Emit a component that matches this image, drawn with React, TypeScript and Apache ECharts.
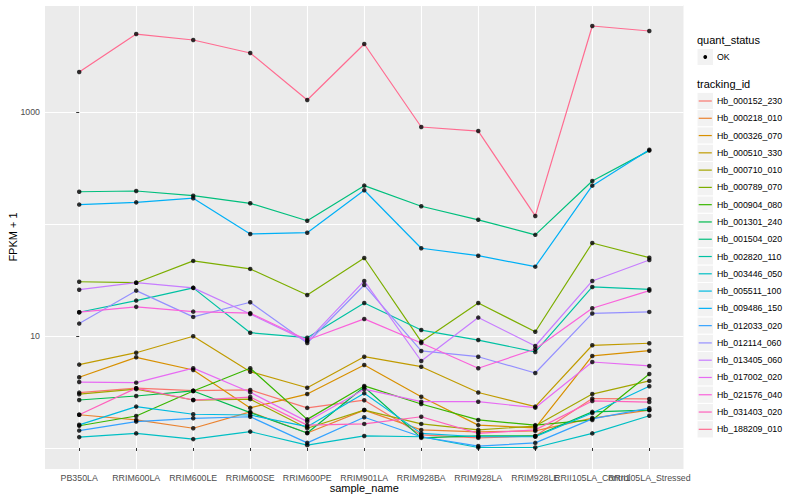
import React, { useEffect, useRef } from "react";
import * as echarts from "echarts";

// ---- data ----
const samples = [
  "PB350LA",
  "RRIM600LA",
  "RRIM600LE",
  "RRIM600SE",
  "RRIM600PE",
  "RRIM901LA",
  "RRIM928BA",
  "RRIM928LA",
  "RRIM928LE",
  "RRII105LA_Control",
  "RRII105LA_Stressed",
];

const trackingIds = [
  "Hb_000152_230",
  "Hb_000218_010",
  "Hb_000326_070",
  "Hb_000510_330",
  "Hb_000710_010",
  "Hb_000789_070",
  "Hb_000904_080",
  "Hb_001301_240",
  "Hb_001504_020",
  "Hb_002820_110",
  "Hb_003446_050",
  "Hb_005511_100",
  "Hb_009486_150",
  "Hb_012033_020",
  "Hb_012114_060",
  "Hb_013405_060",
  "Hb_017002_020",
  "Hb_021576_040",
  "Hb_031403_020",
  "Hb_188209_010",
];

const trackingColors = [
  "#F8766D", "#EA8331", "#D89000", "#C09B00", "#A3A500",
  "#7CAE00", "#39B600", "#00BB4E", "#00BF7D", "#00C1A3",
  "#00BFC4", "#00BAE0", "#00B0F6", "#35A2FF", "#9590FF",
  "#C77CFF", "#E76BF3", "#FA62DB", "#FF62BC", "#FF6C91",
];

const hb000152_230 = [3.12, 3.42, 3.25, 3.3, 2.28, 2.67, 1.31, 1.23, 1.28, 2.76, 2.74];
const hb000218_010 = [1.98, 1.78, 1.5, 2.1, 1.36, 2.18, 1.45, 1.39, 1.42, 1.85, 2.18];
const hb000326_070 = [4.28, 6.45, 4.97, 2.28, 3.03, 5.51, 2.87, 1.6, 1.51, 6.63, 7.39];
const hb000510_330 = [5.55, 7.09, 9.94, 4.8, 3.45, 6.53, 5.32, 3.13, 2.34, 8.26, 8.61];
const hb000710_010 = [3.02, 3.35, 2.68, 2.73, 1.5, 2.18, 1.64, 1.45, 1.57, 3.03, 3.97];
const hb000789_070 = [30.5, 29.9, 46.8, 39.7, 23.2, 49.7, 8.9, 19.7, 10.9, 67.7, 50.0];
const hb000904_080 = [1.58, 1.93, 3.23, 5.15, 1.8, 3.58, 2.47, 1.78, 1.6, 1.78, 4.58];
const hb001301_240 = [2.68, 2.91, 3.23, 2.07, 1.36, 3.5, 1.23, 1.28, 1.28, 2.1, 2.18];
const hb001504_020 = [194, 197, 179, 153, 107, 220, 144, 109, 80, 242, 452];
const hb002820_110 = [16.3, 20.7, 26.9, 10.7, 9.65, 19.7, 11.3, 9.2, 7.2, 27.4, 26.1];
const hb003446_050 = [1.25, 1.35, 1.2, 1.4, 1.06, 1.28, 1.26, 1.01, 1.01, 1.35, 1.94];
const hb005511_100 = [1.61, 2.34, 2.0, 1.97, 1.55, 3.08, 1.35, 1.26, 1.26, 2.05, 3.56];
const hb009486_150 = [149, 156, 170, 81.5, 83.6, 200, 60.7, 52.1, 41.6, 220, 460];
const hb012033_020 = [1.43, 1.72, 1.84, 1.9, 1.11, 1.88, 1.26, 1.04, 1.11, 1.82, 2.27];
const hb012114_060 = [12.9, 25.4, 14.8, 20.0, 8.66, 28.5, 7.35, 6.53, 4.67, 15.9, 16.4];
const hb013405_060 = [25.9, 29.9, 26.9, 15.7, 9.0, 31.0, 5.98, 14.6, 8.14, 31.0, 47.7];
const hb017002_020 = [3.88, 3.83, 5.16, 3.14, 1.72, 3.35, 2.59, 2.59, 2.29, 5.86, 5.4];
const hb021576_040 = [16.3, 18.2, 16.5, 16.0, 9.2, 14.2, 8.66, 5.15, 7.65, 17.7, 25.4];
const hb031403_020 = [1.98, 3.42, 2.68, 2.85, 1.6, 1.64, 1.9, 1.35, 1.45, 2.63, 2.57];
const hb188209_010 = [2277, 4966, 4395, 3365, 1280, 4046, 735, 676, 118, 5860, 5288];

const seriesValues = [
  hb000152_230, hb000218_010, hb000326_070, hb000510_330, hb000710_010,
  hb000789_070, hb000904_080, hb001301_240, hb001504_020, hb002820_110,
  hb003446_050, hb005511_100, hb009486_150, hb012033_020, hb012114_060,
  hb013405_060, hb017002_020, hb021576_040, hb031403_020, hb188209_010,
];

const yTickLabels = [10, 1000];
const yTickMarks = [1, 3]; // log10 positions of labelled ticks
const yMin = 0.649;
const yMax = 9025;

const FONT = "'Liberation Sans', Arial, Helvetica, sans-serif";

export default function App() {
  const ref = useRef<HTMLDivElement>(null);

  useEffect(() => {
    document.body.style.margin = "0";
    if (!ref.current) return;
    const chart = echarts.init(ref.current, undefined, { renderer: "svg" });

    const lineSeries = seriesValues.map((vals, si) => ({
      type: "line",
      name: trackingIds[si],
      data: vals.map((v, i) => [i, v]),
      showSymbol: false,
      symbol: "none",
      lineStyle: { color: trackingColors[si], width: 1.2 },
      itemStyle: { color: trackingColors[si] },
      z: 2,
      silent: true,
    }));

    const points: number[][] = [];
    seriesValues.forEach((vals) => vals.forEach((v, i) => points.push([i, v])));

    // legend graphics
    const lx = 697;
    const legendEls: any[] = [
      {
        type: "text",
        x: lx,
        y: 40,
        style: { text: "quant_status", font: `11px ${FONT}`, fill: "#000", verticalAlign: "middle" },
      },
      {
        type: "rect",
        shape: { x: lx, y: 48.5, width: 16.5, height: 17 },
        style: { fill: "#F2F2F2", stroke: "#FFFFFF", lineWidth: 1 },
      },
      { type: "circle", shape: { cx: lx + 8.25, cy: 57, r: 1.9 }, style: { fill: "#000" } },
      {
        type: "text",
        x: lx + 20,
        y: 57,
        style: { text: "OK", font: `8.8px ${FONT}`, fill: "#000", verticalAlign: "middle" },
      },
      {
        type: "text",
        x: lx,
        y: 84,
        style: { text: "tracking_id", font: `11px ${FONT}`, fill: "#000", verticalAlign: "middle" },
      },
    ];
    trackingIds.forEach((id, i) => {
      const cy = 101 + i * 17.28;
      legendEls.push({
        type: "rect",
        shape: { x: lx, y: cy - 8.64, width: 16.5, height: 17.28 },
        style: { fill: "#F2F2F2", stroke: "#FFFFFF", lineWidth: 1 },
      });
      legendEls.push({
        type: "line",
        shape: { x1: lx + 1.7, y1: cy, x2: lx + 14.8, y2: cy },
        style: { stroke: trackingColors[i], lineWidth: 1.2 },
      });
      legendEls.push({
        type: "text",
        x: lx + 20,
        y: cy,
        style: { text: id, font: `8.8px ${FONT}`, fill: "#000", verticalAlign: "middle" },
      });
    });

    const allIdx = samples.map((_, i) => i);
    // labels split between two stacked bottom axes so overlapping neighbours are both kept
    const mainLabelIdx = allIdx.filter((i) => i !== samples.length - 2);
    const extraLabelIdx = [samples.length - 2];

    const labelStyle = {
      formatter: (v: number) => samples[Math.round(v)] ?? "",
      fontSize: 8.8,
      color: "#4D4D4D",
      margin: 4,
      fontFamily: FONT,
      hideOverlap: false,
      showMinLabel: true,
      showMaxLabel: true,
    };

    const option: any = {
      animation: false,
      backgroundColor: "#FFFFFF",
      textStyle: { fontFamily: FONT },
      grid: {
        left: 45,
        right: 116.5,
        top: 5,
        bottom: 31,
        show: true,
        backgroundColor: "#EBEBEB",
        borderWidth: 0,
        containLabel: false,
        outerBoundsMode: "none",
      },
      xAxis: [
        {
          type: "value",
          min: -0.6,
          max: 10.6,
          position: "bottom",
          name: "sample_name",
          nameLocation: "middle",
          nameGap: 13,
          nameMoveOverlap: false,
          nameTextStyle: { fontSize: 11, color: "#000", fontFamily: FONT },
          axisLine: { show: false },
          axisTick: {
            show: true,
            length: 3,
            lineStyle: { color: "#333333", width: 1 },
            customValues: allIdx,
          },
          axisLabel: { ...labelStyle, customValues: mainLabelIdx },
          splitLine: { show: true, lineStyle: { color: "#FFFFFF", width: 1.1 } },
        },
        {
          type: "value",
          min: -0.6,
          max: 10.6,
          position: "bottom",
          offset: 0,
          axisLine: { show: false },
          axisTick: { show: false, customValues: extraLabelIdx },
          axisLabel: { ...labelStyle, customValues: extraLabelIdx },
          splitLine: { show: false },
        },
      ],
      yAxis: [
        {
          type: "log",
          logBase: 10,
          min: yMin,
          max: yMax,
          name: "FPKM + 1",
          nameLocation: "middle",
          nameGap: 27,
          nameMoveOverlap: false,
          nameTextStyle: { fontSize: 11, color: "#000", fontFamily: FONT },
          axisLine: { show: false },
          axisTick: { show: false },
          axisLabel: {
            fontSize: 8.8,
            color: "#4D4D4D",
            margin: 5,
            fontFamily: FONT,
            showMinLabel: false,
            showMaxLabel: false,
            formatter: (v: number) => {
              const hit = yTickLabels.find((t) => Math.abs(v - t) / t < 1e-6);
              return hit !== undefined ? String(hit) : "";
            },
          },
          splitLine: { show: true, lineStyle: { color: "#FFFFFF", width: 1.1 } },
        },
        {
          type: "value",
          min: Math.log10(yMin),
          max: Math.log10(yMax),
          position: "left",
          axisLine: { show: false },
          axisLabel: { show: false },
          splitLine: { show: false },
          axisTick: {
            show: true,
            length: 3,
            lineStyle: { color: "#333333", width: 1 },
            customValues: yTickMarks,
          },
        },
      ],
      series: [
        ...lineSeries,
        {
          type: "scatter",
          name: "OK",
          data: points,
          symbol: "circle",
          symbolSize: 4.5,
          itemStyle: { color: "#000000" },
          z: 5,
          silent: true,
        },
      ],
      graphic: legendEls,
    };

    chart.setOption(option);
    return () => chart.dispose();
  }, []);

  return <div ref={ref} style={{ width: 800, height: 500 }} />;
}
